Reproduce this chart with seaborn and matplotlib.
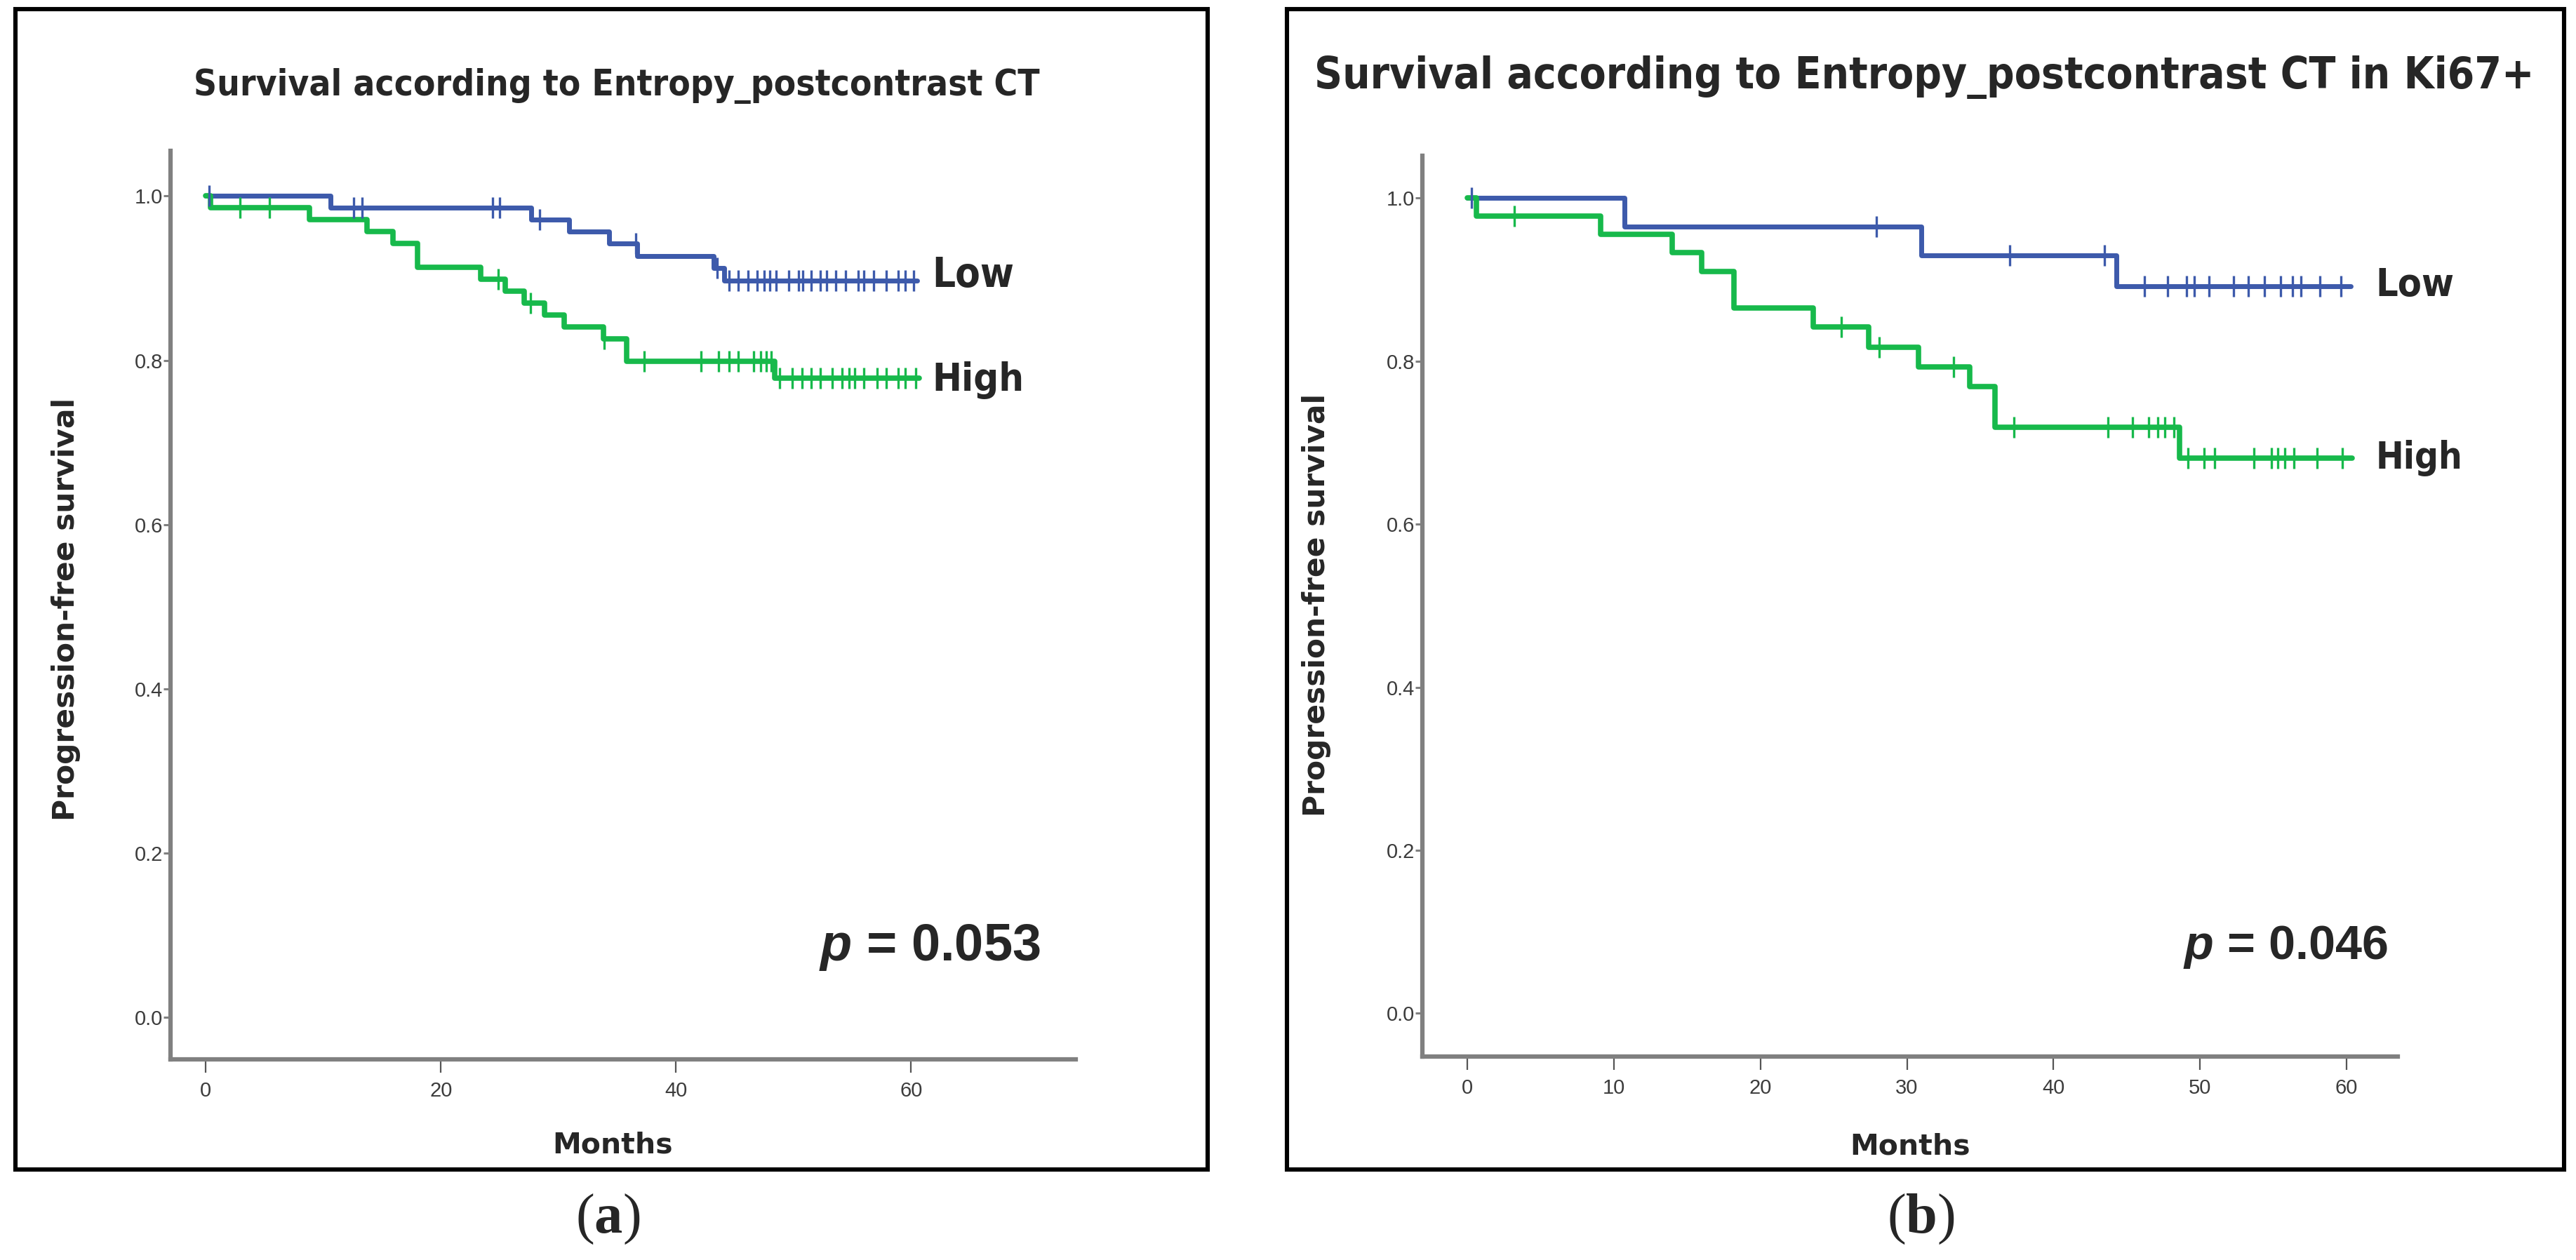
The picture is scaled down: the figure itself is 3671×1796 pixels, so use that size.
import numpy as np
import pandas as pd
import matplotlib
matplotlib.use("Agg")
import matplotlib.pyplot as plt
from matplotlib import font_manager
from matplotlib.patches import Rectangle
import seaborn as sns

# ---- data ----
# panel (a): all patients
a_low_event_t = [10.6, 27.7, 30.9, 34.3, 36.7, 43.2, 44.1]
a_low_event_s = [0.986, 0.971, 0.957, 0.942, 0.927, 0.912, 0.897]
a_low_end = 60.5
a_low_cens = [0.3, 12.6, 13.3, 24.4, 25.0, 28.4, 36.6, 43.5, 44.5, 45.3, 46.1, 46.9,
              47.5, 48.0, 48.5, 49.6, 50.4, 50.8, 51.5, 52.3, 52.8, 53.6, 54.4,
              55.5, 56.0, 56.8, 57.9, 58.9, 59.5, 60.2]

a_high_event_t = [0.4, 8.8, 13.7, 15.9, 18.0, 23.4, 25.5, 27.1, 28.8, 30.5, 33.8, 35.8, 48.4]
a_high_event_s = [0.986, 0.971, 0.957, 0.942, 0.913, 0.899, 0.884, 0.870, 0.855,
                  0.841, 0.826, 0.799, 0.778]
a_high_end = 60.7
a_high_cens = [2.9, 5.4, 24.9, 27.6, 33.9, 37.3, 42.1, 43.6, 44.5, 45.3, 46.6, 47.2,
               47.7, 48.1, 48.8, 49.9, 50.7, 51.5, 52.3, 53.3, 54.1, 54.7, 55.2,
               56.0, 57.1, 57.9, 58.9, 59.5, 60.4]

# panel (b): Ki67+ patients
b_low_event_t = [10.7, 31.0, 44.3]
b_low_event_s = [0.965, 0.930, 0.892]
b_low_end = 60.3
b_low_cens = [0.3, 27.9, 37.0, 43.5, 46.2, 47.8, 49.1, 49.6, 50.6, 52.3, 53.3, 54.4,
              55.5, 56.3, 56.9, 58.2, 59.6]

b_high_event_t = [0.6, 9.1, 14.0, 16.0, 18.2, 23.6, 27.4, 30.8, 34.3, 36.0, 48.6]
b_high_event_s = [0.978, 0.956, 0.933, 0.910, 0.865, 0.842, 0.817, 0.793, 0.769, 0.719, 0.681]
b_high_end = 60.4
b_high_cens = [3.2, 25.5, 28.1, 33.2, 37.3, 43.7, 45.4, 46.5, 47.1, 47.6, 48.2,
               49.2, 50.3, 51.0, 53.7, 54.9, 55.3, 55.8, 56.4, 58.0, 59.7]

titles = ["Survival according to Entropy_postcontrast CT",
          "Survival according to Entropy_postcontrast CT in Ki67+"]
p_values = ["0.053", "0.046"]
group_names = ["Low", "High"]
captions = ["a", "b"]

BLUE = "#3d5aab"
GREEN = "#17b94b"
GREY = "#808080"

W, H = 3671, 1796

# look for a narrow bold face for the SPSS-like titles, else plain Liberation Sans
NARROW, STRETCH = "Liberation Sans", "normal"
for f in font_manager.fontManager.ttflist:
    bold = f.weight in ("bold", 700) or (isinstance(f.weight, int) and f.weight >= 600)
    if bold and ("Narrow" in f.name or "Condensed" in f.name or f.stretch in ("condensed", "semi-condensed")):
        NARROW, STRETCH = f.name, f.stretch
        break

sns.set_style("white")
plt.rcParams["font.family"] = ["Liberation Sans", "DejaVu Sans"]
plt.rcParams["mathtext.fontset"] = "custom"
plt.rcParams["mathtext.rm"] = "Liberation Serif"
plt.rcParams["mathtext.bf"] = "Liberation Serif:bold"
plt.rcParams["mathtext.it"] = "Liberation Sans:italic:bold"


def step_frame(event_t, event_s, end):
    t = [0.0] + list(event_t) + [end]
    s = [1.0] + list(event_s) + [event_s[-1]]
    return pd.DataFrame({"t": t, "s": s})


def cens_frame(event_t, event_s, cens):
    t = np.array(event_t)
    s = np.array([1.0] + list(event_s))
    idx = np.searchsorted(t, np.array(cens), side="right")
    return pd.DataFrame({"t": cens, "s": s[idx]})


def px(x, y):
    return x / W, 1 - y / H


fig = plt.figure(figsize=(W / 100, H / 100), dpi=100)
renderer = fig.canvas.get_renderer()
fit_list = []

panels = [
    dict(rect=[243, 215, 1533, 1510], xlim=(-3.0, 74.0), ylim=(-0.051, 1.055),
         xticks=[0, 20, 40, 60],
         low=(a_low_event_t, a_low_event_s, a_low_end, a_low_cens),
         high=(a_high_event_t, a_high_event_s, a_high_end, a_high_cens),
         lab_x=61.8, lab_y=(0.903, 0.776), lab_w=(117, 131),
         p_xy=(71.0, 0.085), p_w=316,
         title_xy=(879, 122), title_w=1206,
         ylab_xy=(94, 868), xlab_xy=(873, 1632),
         frame=(22, 13, 1721, 1667), cap_xy=(866, 1738)),
    dict(rect=[2027, 222, 3417, 1506], xlim=(-3.07, 63.5), ylim=(-0.053, 1.052),
         xticks=[0, 10, 20, 30, 40, 50, 60],
         low=(b_low_event_t, b_low_event_s, b_low_end, b_low_cens),
         high=(b_high_event_t, b_high_event_s, b_high_end, b_high_cens),
         lab_x=62.0, lab_y=(0.893, 0.681), lab_w=(112, 124),
         p_xy=(62.8, 0.081), p_w=292,
         title_xy=(2742, 110), title_w=1739,
         ylab_xy=(1876, 862), xlab_xy=(2722, 1634),
         frame=(1834, 13, 3654, 1667), cap_xy=(2737, 1738)),
]

for i, pnl in enumerate(panels):
    x0, y0, x1, y1 = pnl["rect"]
    ax = fig.add_axes([x0 / W, 1 - y1 / H, (x1 - x0) / W, (y1 - y0) / H])

    for grp, color, lw in [(pnl["low"], BLUE, 5.0), (pnl["high"], GREEN, 5.5)]:
        ev_t, ev_s, end, cens = grp
        sns.lineplot(data=step_frame(ev_t, ev_s, end), x="t", y="s", ax=ax,
                     drawstyle="steps-post", estimator=None, sort=False,
                     color=color, linewidth=lw)
        sns.scatterplot(data=cens_frame(ev_t, ev_s, cens), x="t", y="s", ax=ax,
                        marker="|", s=480, color=color, linewidth=2.4, zorder=3)

    ax.set_xlim(*pnl["xlim"])
    ax.set_ylim(*pnl["ylim"])
    ax.set_xticks(pnl["xticks"])
    ax.set_yticks([0.0, 0.2, 0.4, 0.6, 0.8, 1.0])
    ax.set_yticklabels([f"{v:.1f}" for v in [0.0, 0.2, 0.4, 0.6, 0.8, 1.0]])
    ax.set_xlabel("")
    ax.set_ylabel("")
    sns.despine(ax=ax)
    for side in ["left", "bottom"]:
        ax.spines[side].set_color(GREY)
        ax.spines[side].set_linewidth(4.5)
    ax.tick_params(axis="y", direction="out", length=7, width=2.2, color=GREY,
                   labelsize=21, labelcolor="#3c3c3c", pad=1, left=True)
    ax.tick_params(axis="x", direction="out", length=14, width=1.6, color="#555555",
                   labelsize=21, labelcolor="#3c3c3c", pad=8, bottom=True)

    # group labels at the curve ends
    for name, yy, wt in zip(group_names, pnl["lab_y"], pnl["lab_w"]):
        t = ax.text(pnl["lab_x"], yy, name, fontsize=50, family=NARROW, fontstretch=STRETCH,
                    fontweight="bold", ha="left", va="center", clip_on=False)
        fit_list.append((t, wt))
    t = ax.text(pnl["p_xy"][0], pnl["p_xy"][1], r"$\mathit{p}$ = " + p_values[i],
                fontsize=50, fontweight="bold", ha="right", va="center", clip_on=False)
    fit_list.append((t, pnl["p_w"]))

    t = fig.text(*px(*pnl["title_xy"]), titles[i], fontsize=50, family=NARROW,
                 fontstretch=STRETCH, fontweight="bold", ha="center", va="center")
    fit_list.append((t, pnl["title_w"]))
    fig.text(*px(*pnl["ylab_xy"]), "Progression-free survival", family="DejaVu Sans",
             fontsize=30.5, fontweight="bold", rotation=90, ha="center", va="center")
    fig.text(*px(*pnl["xlab_xy"]), "Months", family="DejaVu Sans",
             fontsize=29.5, fontweight="bold", ha="center", va="center")

    fx0, fy0, fx1, fy1 = pnl["frame"]
    fig.patches.append(Rectangle((fx0 / W, 1 - fy1 / H), (fx1 - fx0) / W, (fy1 - fy0) / H,
                                 transform=fig.transFigure, fill=False,
                                 edgecolor="black", linewidth=4.4, joinstyle="miter"))
    fig.text(*px(*pnl["cap_xy"]), r"$\mathrm{(}\mathbf{" + captions[i] + r"}\mathrm{)}$",
             fontsize=58, ha="center", va="center")

# scale the headline-type texts so their widths match the reference
for t, target in fit_list:
    w = t.get_window_extent(renderer=renderer).width
    t.set_fontsize(t.get_fontsize() * target / w)

fig.savefig("out.png", dpi=100, facecolor="white")
